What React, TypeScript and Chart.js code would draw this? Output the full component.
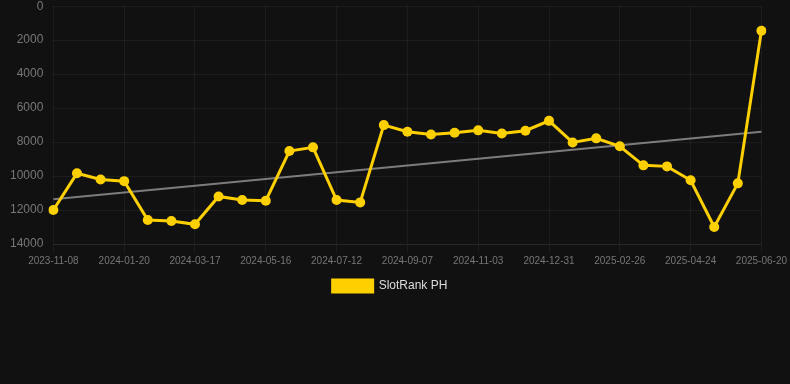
import React, { useEffect, useRef } from "react";
import { Chart, registerables } from "chart.js";

Chart.register(...registerables);

const categories: string[] = [
  "2023-11-08", "2023-12-02", "2023-12-26", "2024-01-20", "2024-02-07", "2024-02-26",
  "2024-03-17", "2024-04-06", "2024-04-26", "2024-05-16", "2024-06-04", "2024-06-23",
  "2024-07-12", "2024-07-31", "2024-08-19", "2024-09-07", "2024-09-26", "2024-10-15",
  "2024-11-03", "2024-11-22", "2024-12-11", "2024-12-31", "2025-01-19", "2025-02-07",
  "2025-02-26", "2025-03-17", "2025-04-05", "2025-04-24", "2025-05-13", "2025-06-01",
  "2025-06-20",
];

const rankValues: number[] = [
  12000, 9840, 10200, 10300, 12590, 12650, 12840, 11200, 11410, 11450,
  8530, 8310, 11410, 11550, 7000, 7390, 7550, 7450, 7310, 7490,
  7330, 6750, 8020, 7780, 8250, 9370, 9430, 10250, 13000, 10430,
  1450,
];

const trendStart = 11370;
const trendEnd = 7390;

const seriesLabel = "SlotRank PH";
const yTicks = { min: 0, max: 14000, step: 2000 };

export default function App() {
  const ref = useRef<HTMLCanvasElement | null>(null);

  useEffect(() => {
    document.body.style.margin = "0";
    document.body.style.background = "#111111";
    if (!ref.current) return;
    const trend = categories.map((_, i) =>
      i === 0 ? trendStart : i === categories.length - 1 ? trendEnd : null
    );
    const chart = new Chart(ref.current, {
      type: "line",
      data: {
        labels: categories,
        datasets: [
          {
            label: seriesLabel,
            data: rankValues,
            borderColor: "#FFD000",
            backgroundColor: "#FFD000",
            borderWidth: 3,
            pointRadius: 5,
            pointHoverRadius: 5,
            pointBackgroundColor: "#FFD000",
            pointBorderColor: "#FFD000",
            pointBorderWidth: 0,
            tension: 0,
          },
          {
            label: "trend",
            data: trend,
            borderColor: "rgba(160,160,160,0.75)",
            backgroundColor: "rgba(160,160,160,0.75)",
            borderWidth: 2,
            pointRadius: 0,
            spanGaps: true,
            tension: 0,
          },
        ],
      },
      options: {
        animation: false,
        responsive: false,
        maintainAspectRatio: false,
        layout: { padding: { left: 0, top: 0, bottom: 0, right: 10 } },
        plugins: {
          legend: {
            position: "bottom",
            labels: {
              color: "#dddddd",
              boxWidth: 40,
              boxHeight: 12,
              font: { size: 12, family: "Liberation Sans, Arial, sans-serif" },
              filter: (item) => item.text !== "trend",
            },
          },
          tooltip: { enabled: false },
        },
        scales: {
          x: {
            grid: { color: "rgba(255,255,255,0.05)", tickLength: 8 },
            border: { color: "rgba(255,255,255,0.05)" },
            ticks: {
              color: "#777777",
              font: { size: 10, family: "Liberation Sans, Arial, sans-serif" },
              maxRotation: 0,
              autoSkip: true,
            },
          },
          y: {
            reverse: true,
            min: yTicks.min,
            max: yTicks.max,
            grid: { color: "rgba(255,255,255,0.05)", drawTicks: false },
            border: { display: false },
            ticks: {
              stepSize: yTicks.step,
              color: "#777777",
              padding: 10,
              font: { size: 12, family: "Liberation Sans, Arial, sans-serif" },
              callback: (v) => String(v),
            },
          },
        },
      },
    });
    return () => chart.destroy();
  }, []);

  return (
    <div style={{ width: 790, height: 384, background: "#111111", overflow: "hidden" }}>
      <canvas
        ref={ref}
        width={790}
        height={313}
        style={{ display: "block", marginTop: -11 }}
      />
    </div>
  );
}
